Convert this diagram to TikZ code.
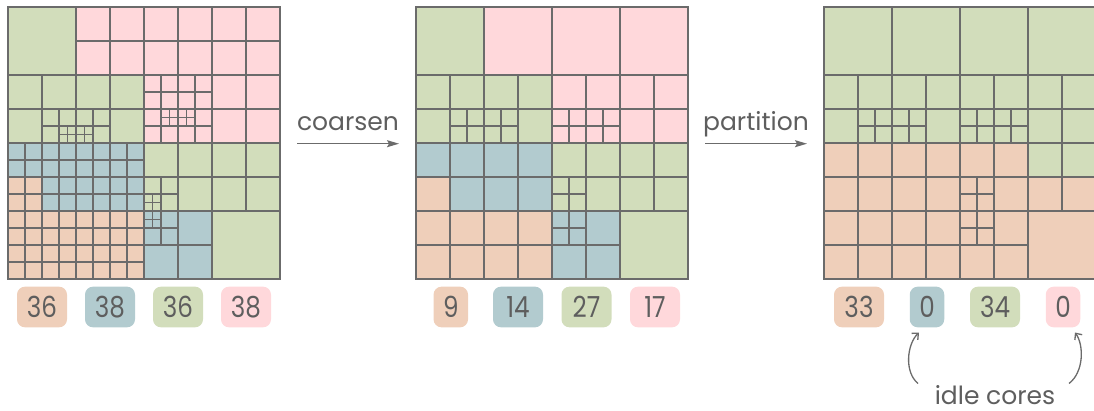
\documentclass[tikz,border=0pt]{standalone}
\usepackage{fontspec}
\usepackage{graphicx}
\setmainfont{Poppins}
\usetikzlibrary{arrows.meta}
\definecolor{cG}{HTML}{D2DDBB}
\definecolor{cP}{HTML}{FFD8DB}
\definecolor{cB}{HTML}{B2CBCF}
\definecolor{cO}{HTML}{EFCFBA}
\definecolor{lc}{HTML}{6B6B6B}
\definecolor{tc}{HTML}{5E5E5E}
\newcommand\numfont{\fontsize{29}{30}\selectfont}
\newcommand\wordfont{\fontsize{25}{28}\selectfont}
\newcommand\nx[1]{\scalebox{0.85}[1]{#1}}
\tikzset{
  cell/.style={draw=lc, line width=1.1pt},
  coarse/.style={draw=lc, line width=1.6pt},
  lbl/.style={rounded corners=8pt, minimum height=40.7pt, minimum width=50pt, inner sep=0pt, text=tc, font=\numfont},
  lblsm/.style={lbl, minimum width=34.5pt},
  word/.style={text=tc, font=\wordfont, inner sep=0pt, anchor=base},
  flow/.style={draw=lc, line width=1.3pt, -{Stealth[length=12pt,width=7pt,inset=2pt]}},
  idle/.style={draw=lc, line width=1.3pt, -{Straight Barb[length=5pt,width=9pt]}},
}
\newcommand\cellA[4]{\filldraw[cell, fill=#4] (#1,#2) rectangle ++(#3,#3);}
\newcommand\cellB[4]{\pgfmathsetmacro\myhs{#3/2}%
  \foreach \i in {0,1}{\foreach \j in {0,1}{\filldraw[cell, fill=#4] ({#1+\i*\myhs},{#2+\j*\myhs}) rectangle ++(\myhs,\myhs);}}}
\newcommand\cellC[4]{\pgfmathsetmacro\myqs{#3/4}%
  \foreach \i in {0,1,2,3}{\foreach \j in {0,1,2,3}{\filldraw[cell, fill=#4] ({#1+\i*\myqs},{#2+\j*\myqs}) rectangle ++(\myqs,\myqs);}}}
\newcommand\coarsegrid{\foreach \k in {68,136,204}{\draw[coarse] (\k,0) -- (\k,272); \draw[coarse] (0,\k) -- (272,\k);}
  \draw[coarse] (0,0) rectangle (272,272);}
\begin{document}
\begin{tikzpicture}[x=1pt,y=-1pt]
\useasboundingbox (0,0) rectangle (1094,411);
% ---------- grid 1 ----------
\begin{scope}[shift={(8,7)}]
\cellA{0}{0}{68}{cG}
\cellB{68}{0}{68}{cP}
\cellB{136}{0}{68}{cP}
\cellB{204}{0}{68}{cP}
\cellB{0}{68}{68}{cG}
\cellB{34}{102}{34}{cG}
\cellB{51}{119}{17}{cG}
\cellB{68}{68}{68}{cG}
\cellB{68}{102}{34}{cG}
\cellB{68}{119}{17}{cG}
\cellC{136}{68}{68}{cP}
\cellB{153}{102}{17}{cP}
\cellB{170}{102}{17}{cP}
\cellB{204}{68}{68}{cP}
\cellB{0}{136}{34}{cB}
\cellB{34}{136}{34}{cB}
\cellB{0}{170}{34}{cO}
\cellB{34}{170}{34}{cB}
\cellC{68}{136}{68}{cB}
\cellB{136}{136}{68}{cG}
\cellB{136}{170}{34}{cG}
\cellB{136}{187}{17}{cG}
\cellB{204}{136}{68}{cG}
\cellC{0}{204}{68}{cO}
\cellC{68}{204}{68}{cO}
\cellB{136}{204}{68}{cB}
\cellB{136}{204}{34}{cB}
\cellB{136}{204}{17}{cB}
\cellA{204}{204}{68}{cG}
\coarsegrid
\end{scope}
% ---------- grid 2 ----------
\begin{scope}[shift={(416,7)}]
\cellA{0}{0}{68}{cG}
\cellA{68}{0}{68}{cP}
\cellA{136}{0}{68}{cP}
\cellA{204}{0}{68}{cP}
\cellB{0}{68}{68}{cG}
\cellB{34}{102}{34}{cG}
\cellB{68}{68}{68}{cG}
\cellB{68}{102}{34}{cG}
\cellB{136}{68}{68}{cP}
\cellB{136}{102}{34}{cP}
\cellB{170}{102}{34}{cP}
\cellB{204}{68}{68}{cP}
\cellA{0}{136}{34}{cB}
\cellA{34}{136}{34}{cB}
\cellA{0}{170}{34}{cO}
\cellA{34}{170}{34}{cB}
\cellB{68}{136}{68}{cB}
\cellB{136}{136}{68}{cG}
\cellB{136}{170}{34}{cG}
\cellB{204}{136}{68}{cG}
\cellB{0}{204}{68}{cO}
\cellB{68}{204}{68}{cO}
\cellB{136}{204}{68}{cB}
\cellB{136}{204}{34}{cB}
\cellA{204}{204}{68}{cG}
\coarsegrid
\end{scope}
% ---------- grid 3 ----------
\begin{scope}[shift={(824,7)}]
\cellA{0}{0}{68}{cG}
\cellA{68}{0}{68}{cG}
\cellA{136}{0}{68}{cG}
\cellA{204}{0}{68}{cG}
\cellB{0}{68}{68}{cG}
\cellB{34}{102}{34}{cG}
\cellB{68}{68}{68}{cG}
\cellB{68}{102}{34}{cG}
\cellB{136}{68}{68}{cG}
\cellB{136}{102}{34}{cG}
\cellB{170}{102}{34}{cG}
\cellB{204}{68}{68}{cG}
\cellB{0}{136}{68}{cO}
\cellB{68}{136}{68}{cO}
\cellB{136}{136}{68}{cO}
\cellB{136}{170}{34}{cO}
\cellA{204}{136}{34}{cG}
\cellA{238}{136}{34}{cG}
\cellA{204}{170}{34}{cO}
\cellA{238}{170}{34}{cO}
\cellB{0}{204}{68}{cO}
\cellB{68}{204}{68}{cO}
\cellB{136}{204}{68}{cO}
\cellB{136}{204}{34}{cO}
\cellA{204}{204}{68}{cO}
\coarsegrid
\end{scope}
% ---------- labels ----------
\node[lbl, fill=cO] (a1) at (42,307) {\nx{36}};
\node[lbl, fill=cB] (a2) at (110,307) {\nx{38}};
\node[lbl, fill=cG] (a3) at (178,307) {\nx{36}};
\node[lbl, fill=cP] (a4) at (246,307) {\nx{38}};
\node[lblsm, fill=cO] (b1) at (450.8,307) {\nx{9}};
\node[lbl, fill=cB] (b2) at (518,307) {\nx{14}};
\node[lbl, fill=cG] (b3) at (586.5,307) {\nx{27}};
\node[lbl, fill=cP] (b4) at (655,307) {\nx{17}};
\node[lbl, fill=cO] (c1) at (859,307) {\nx{33}};
\node[lblsm, fill=cB] (c2) at (927,307) {\nx{0}};
\node[lbl, fill=cG] (c3) at (995,307) {\nx{34}};
\node[lblsm, fill=cP] (c4) at (1063,307) {\nx{0}};
% ---------- words and arrows ----------
\node[word] (coarsen) at (348,131) {coarsen};
\node[word] (partition) at (756,131) {partition};
\node[word] (idle) at (995,404) {idle cores};
\coordinate (cs) at (297,143.7);
\coordinate (ce) at (399,143.7);
\coordinate (ps) at (705,143.7);
\coordinate (pe) at (807,143.7);
\draw[flow] (cs) -- (ce);
\draw[flow] (ps) -- (pe);
\coordinate (l0) at (918,383.5);
\coordinate (l1) at (919,332.5);
\coordinate (r0) at (1069,383.5);
\coordinate (r1) at (1075,332.5);
\draw[idle] (l0) .. controls (904,372) and (907,344) .. (l1);
\draw[idle] (r0) .. controls (1084,372) and (1084,345) .. (r1);
\end{tikzpicture}
\end{document}
